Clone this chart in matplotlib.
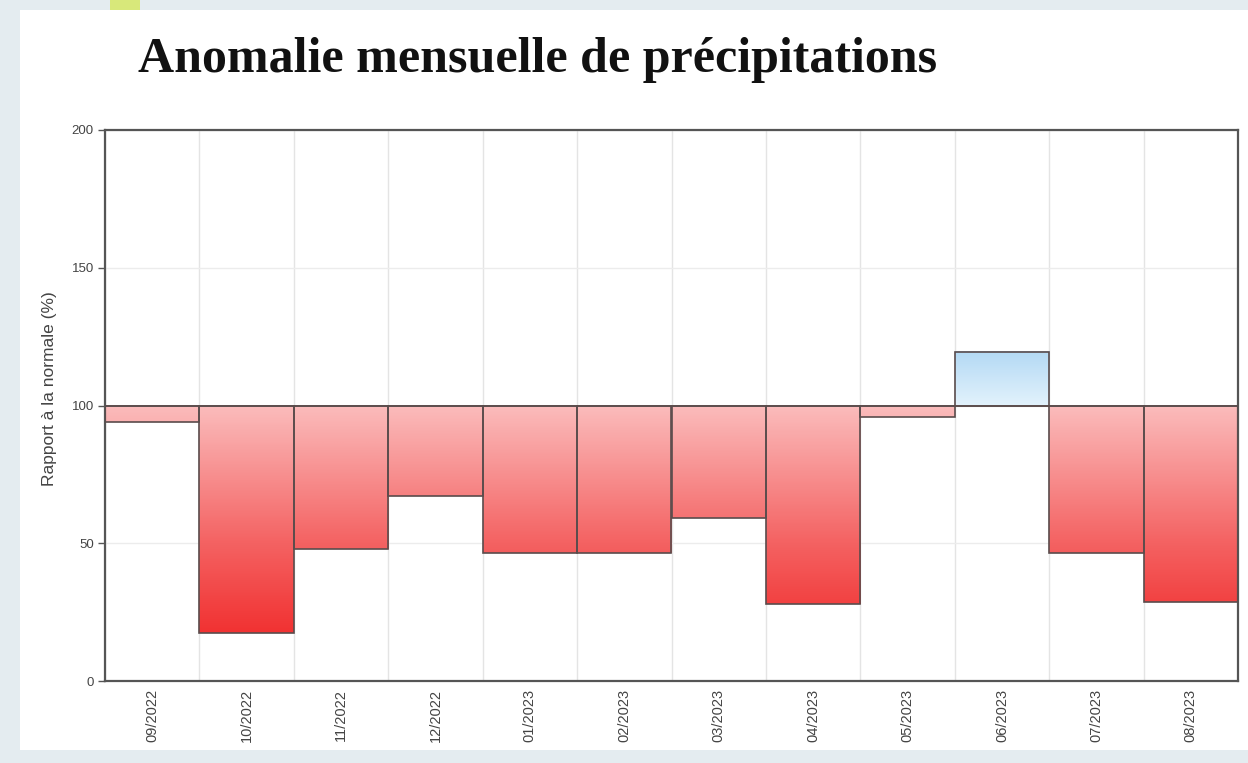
import numpy as np
import matplotlib
matplotlib.use("Agg")
import matplotlib.pyplot as plt
from matplotlib.colors import LinearSegmentedColormap, Normalize
from matplotlib.patches import Rectangle

months = ["09/2022", "10/2022", "11/2022", "12/2022", "01/2023", "02/2023",
          "03/2023", "04/2023", "05/2023", "06/2023", "07/2023", "08/2023"]
ratio = [94, 17.5, 48, 67, 46.5, 46.5, 59, 28, 96, 119.5, 46.5, 28.5]
normal = 100
yticks = [0, 50, 100, 150, 200]

title = "Anomalie mensuelle de précipitations"
ylabel = "Rapport à la normale (%)"

fig = plt.figure(figsize=(12.48, 7.63), dpi=100)
fig.patch.set_facecolor("#e4ecf0")
# white panel
fig.patches.append(Rectangle((20/1248, 1-750/763), 1 - 20/1248, (750-10)/763,
                             transform=fig.transFigure, facecolor="white",
                             edgecolor="none", zorder=-5))
fig.patches.append(Rectangle((110/1248, 1-10/763), 30/1248, 10/763,
                             transform=fig.transFigure, facecolor="#d8e87a",
                             edgecolor="none", zorder=-5))

ax = fig.add_axes([105/1248, 1-681/763, (1238-105)/1248, (681-130)/763])
ax.set_facecolor("white")

x = np.arange(len(months))
heights = [v - normal for v in ratio]
bars = ax.bar(x, heights, bottom=normal, width=1.0, facecolor="none",
              edgecolor="#5a4c4c", linewidth=1.2, zorder=3)

red_cmap = LinearSegmentedColormap.from_list("r", ["#f01818", "#f46262", "#fbbcbc"])
blue_cmap = LinearSegmentedColormap.from_list("b", ["#e2f2fc", "#a6d2f2"])
red_norm = Normalize(0, 100)
blue_norm = Normalize(100, 125)

for b, v in zip(bars, ratio):
    bb = b.get_bbox()
    x0, x1 = bb.x0, bb.x1
    lo, hi = min(bb.y0, bb.y1), max(bb.y0, bb.y1)
    yy = np.linspace(lo, hi, 200).reshape(-1, 1)
    if v < normal:
        img = red_cmap(red_norm(yy))
    else:
        img = blue_cmap(blue_norm(yy))
    ax.imshow(img, extent=[x0, x1, lo, hi], origin="lower", aspect="auto",
              interpolation="bilinear", zorder=2)

ax.axhline(normal, color="#5a4c4c", linewidth=1.2, zorder=4)

ax.set_xlim(-0.5, len(months) - 0.5)
ax.set_ylim(0, 200)
ax.set_yticks(yticks)
ax.set_yticklabels([str(t) for t in yticks], fontsize=9.5, color="#444444",
                   family="Liberation Sans")
ax.set_xticks(x)
ax.set_xticklabels(months, rotation=90, fontsize=10.5, color="#444444",
                   family="Liberation Sans")
ax.tick_params(axis="x", length=0, pad=6)
ax.tick_params(axis="y", length=5, width=1, color="#555555", pad=3)

ax.set_xticks(np.arange(-0.5, len(months), 1), minor=True)
ax.grid(which="minor", axis="x", color="#e4e4e4", linewidth=1, zorder=0)
ax.grid(which="major", axis="y", color="#ececec", linewidth=1, zorder=0)
ax.grid(which="major", axis="x", visible=False)
ax.tick_params(axis="x", which="minor", length=0)
ax.set_axisbelow(True)

for s in ax.spines.values():
    s.set_color("#555555")
    s.set_linewidth(1.6)

ax.set_ylabel(ylabel, fontsize=12.5, color="#444444", family="Liberation Sans")
ax.yaxis.set_label_coords(-0.042, 0.53)

fig.text(138/1248, 1-60/763, title, fontsize=36, fontweight="bold",
         family="Liberation Serif", ha="left", va="center", color="#111111")

fig.savefig("out.png", dpi=100, facecolor=fig.get_facecolor())
